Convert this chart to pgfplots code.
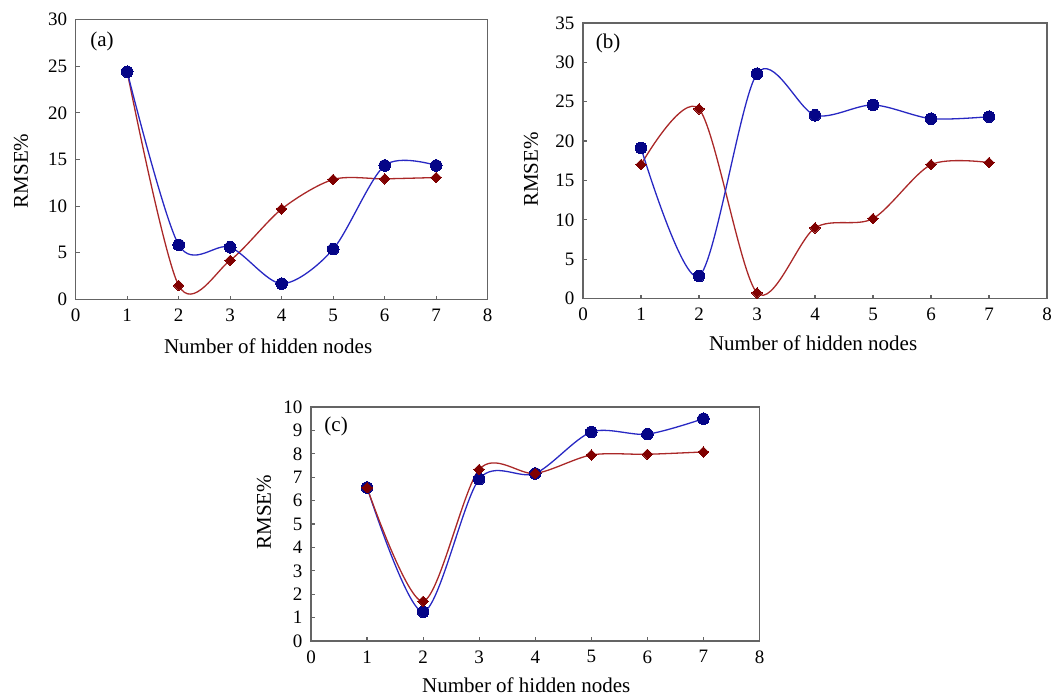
\documentclass[border=0pt]{standalone}
\usepackage{pgfplots}
\pgfplotsset{compat=1.18}
\usepackage{fontspec}
\setmainfont{Liberation Serif}
\definecolor{bluemk}{RGB}{5,5,135}
\definecolor{blueln}{RGB}{40,40,195}
\definecolor{redmk}{RGB}{128,0,0}
\definecolor{redln}{RGB}{170,40,40}
\definecolor{axgray}{RGB}{100,100,100}
\pgfplotsset{
  panel/.style={
    scale only axis,
    axis line style={axgray, line width=1.5pt},
    every tick/.style={axgray, line width=1.2pt},
    major tick length=4pt,
    xtick pos=bottom, ytick pos=left,
    xmin=0, xmax=8, xtick={0,...,8},
    ymin=0,
    tick label style={font=\fontsize{19}{22}\selectfont},
    /pgf/number format/assume math mode=true,
    label style={font=\fontsize{21}{24}\selectfont},
    xticklabel style={yshift=-6pt},
    yticklabel style={xshift=-5pt},
    clip=false,
  },
  blueser/.style={blueln, line width=1.3pt, smooth, tension=0.5,
    mark=*, mark size=5.8pt, mark options={draw=bluemk, fill=bluemk, line width=0pt}},
  redser/.style={redln, line width=1.3pt, smooth, tension=0.5,
    mark=square*, mark size=3.7pt, mark options={draw=redmk, fill=redmk, rotate=45, line width=0pt}},
}
\begin{document}
\begin{tikzpicture}
\useasboundingbox (0pt,0pt) rectangle (1051pt,-697pt);
% (a)
\begin{axis}[panel, at={(75.7pt,-299.5pt)}, anchor=south west,
  width=412pt, height=280pt, ymax=30, ytick={0,5,...,30},
  xlabel={Number of hidden nodes},
  xlabel style={at={(axis description cs:0.467,0)}, anchor=base, yshift=-53.5pt},
  ylabel={RMSE\%},
  ylabel style={at={(axis description cs:0,0.459)}, anchor=center, yshift=54.7pt}]
\addplot[redser] coordinates {(1,24.4) (2,1.5) (3,4.2) (4,9.7) (5,12.86) (6,12.93) (7,13.07)};
\addplot[blueser] coordinates {(1,24.4) (2,5.86) (3,5.6) (4,1.7) (5,5.4) (6,14.36) (7,14.36)};
\node[font=\fontsize{21}{24}\selectfont] at (axis description cs:0.064,0.92) {(a)};
\end{axis}
% (b)
\begin{axis}[panel, at={(583pt,-298.5pt)}, anchor=south west,
  width=464pt, height=275.5pt, ymax=35, ytick={0,5,...,35},
  xlabel={Number of hidden nodes},
  xlabel style={at={(axis description cs:0.496,0)}, anchor=base, yshift=-51.5pt},
  ylabel={RMSE\%},
  ylabel style={at={(axis description cs:0,0.468)}, anchor=center, yshift=52pt}]
\addplot[redser] coordinates {(1,17.0) (2,24.08) (3,0.72) (4,8.97) (5,10.16) (6,17.0) (7,17.27)};
\addplot[blueser] coordinates {(1,19.13) (2,2.84) (3,28.57) (4,23.28) (5,24.59) (6,22.85) (7,23.1)};
\node[font=\fontsize{21}{24}\selectfont] at (axis description cs:0.054,0.927) {(b)};
\end{axis}
% (c)
\begin{axis}[panel, at={(311pt,-641pt)}, anchor=south west,
  width=448.5pt, height=234pt, ymax=10, ytick={0,1,...,10},
  xlabel={Number of hidden nodes},
  xlabel style={at={(axis description cs:0.48,0)}, anchor=base, yshift=-51pt},
  ylabel={RMSE\%},
  ylabel style={at={(axis description cs:0,0.55)}, anchor=center, yshift=47pt}]
\addplot[blueser] coordinates {(1,6.56) (2,1.25) (3,6.92) (4,7.16) (5,8.93) (6,8.84) (7,9.5)};
\addplot[redser] coordinates {(1,6.55) (2,1.70) (3,7.33) (4,7.16) (5,7.95) (6,7.98) (7,8.08)};
\node[font=\fontsize{21}{24}\selectfont] at (axis description cs:0.056,0.915) {(c)};
\end{axis}
\end{tikzpicture}
\end{document}
